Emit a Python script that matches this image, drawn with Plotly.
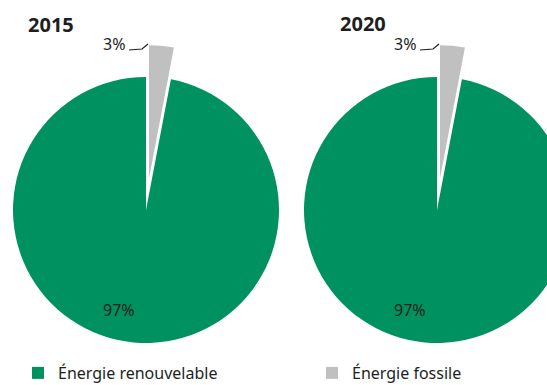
import math
import plotly.graph_objects as go

# ---- data ----
years = ["2015", "2020"]
labels = ["Énergie renouvelable", "Énergie fossile"]
renouvelable = [97, 97]
fossile = [3, 3]
colors = ["#009160", "#c0c0c0"]
TRANSPARENT = "rgba(0,0,0,0)"

W, H = 574, 385
FONT = "Noto Sans"
TXT = "#1e1e1e"


def px(x):
    return x / W


def py(y):
    return 1 - y / H


R = 133          # pie radius in px
PULL = 32        # explode distance in px
centers = [(146, 210), (437, 210)]

fig = go.Figure()

# legend carriers (tiny, hidden behind the left pie), one per legend
for k, leg in enumerate(["legend", "legend2"]):
    fig.add_trace(go.Pie(
        labels=[labels[k]], values=[1], sort=False,
        marker=dict(colors=[colors[k]]), textinfo="none", hoverinfo="skip",
        domain=dict(x=[px(100 + k * 5), px(101 + k * 5)], y=[py(251), py(250)]),
        showlegend=True, legend=leg,
    ))

for i, year in enumerate(years):
    vals = [renouvelable[i], fossile[i]]
    rot = fossile[i] * 360 / sum(vals)
    cx, cy = centers[i]
    # green pie with the fossil slice left empty
    fig.add_trace(go.Pie(
        labels=labels, values=vals, sort=False, direction="clockwise",
        rotation=rot, marker=dict(colors=[colors[0], TRANSPARENT], line=dict(width=0)),
        textinfo="none", hoverinfo="skip", showlegend=False,
        domain=dict(x=[px(cx - R), px(cx + R)], y=[py(cy + R), py(cy - R)]),
    ))
    # exploded fossil slice
    ang = math.radians(rot / 2)
    gx = cx + PULL * math.sin(ang)
    gy = cy - PULL * math.cos(ang)
    fig.add_trace(go.Pie(
        labels=labels, values=vals, sort=False, direction="clockwise",
        rotation=rot, marker=dict(colors=[TRANSPARENT, colors[1]], line=dict(width=0)),
        textinfo="none", hoverinfo="skip", showlegend=False,
        domain=dict(x=[px(gx - R), px(gx + R)], y=[py(gy + R), py(gy - R)]),
    ))

annotations = []
shapes = []
offs = [0, 291]
title_pos = [(51, 24), (363, 23)]
for i, year in enumerate(years):
    o = offs[i]
    annotations.append(dict(text=f"<b>{year}</b>", x=px(title_pos[i][0]), y=py(title_pos[i][1]),
                            xref="paper", yref="paper", showarrow=False,
                            xanchor="center", yanchor="middle",
                            font=dict(family=FONT, size=20, color=TXT)))
    annotations.append(dict(text=f"{fossile[i]}%", x=px(114 + o), y=py(44),
                            xref="paper", yref="paper", showarrow=False,
                            xanchor="center", yanchor="middle",
                            font=dict(family=FONT, size=16, color=TXT)))
    annotations.append(dict(text=f"{renouvelable[i]}%", x=px(119 + o), y=py(310),
                            xref="paper", yref="paper", showarrow=False,
                            xanchor="center", yanchor="middle",
                            font=dict(family=FONT, size=16, color=TXT)))
    shapes.append(dict(type="path", xref="paper", yref="paper",
                       path=f"M {px(129 + o)} {py(50)} L {px(142 + o)} {py(49)} L {px(148 + o)} {py(44)}",
                       line=dict(color=TXT, width=1.2)))

leg_common = dict(orientation="h", yanchor="middle", xanchor="left",
                  font=dict(family=FONT, size=16, color=TXT), bgcolor="rgba(0,0,0,0)")

fig.update_layout(
    width=W, height=H, autosize=False,
    margin=dict(l=0, r=0, t=0, b=0, autoexpand=False),
    paper_bgcolor="white", plot_bgcolor="white",
    annotations=annotations, shapes=shapes,
    legend=dict(x=px(18), y=py(373), **leg_common),
    legend2=dict(x=px(312), y=py(373), **leg_common),
)

fig.write_html("out.html")
